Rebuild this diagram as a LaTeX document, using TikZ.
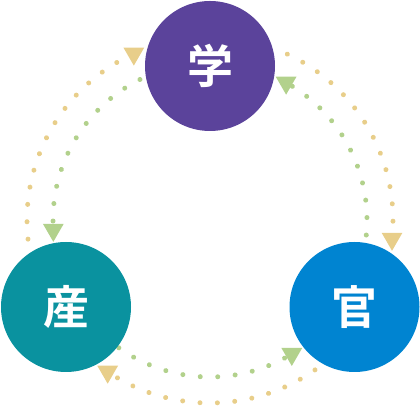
\documentclass[tikz,border=0pt]{standalone}
\usepackage{fontspec}
\newfontfamily\jpfont{Noto Sans CJK JP}[BoldFont={Noto Sans CJK JP Bold}]
\usepackage{tikz}
\usetikzlibrary{shapes.geometric}
\definecolor{gakucolor}{RGB}{91, 67, 155}
\definecolor{sancolor}{RGB}{10, 146, 159}
\definecolor{kancolor}{RGB}{0, 132, 209}
\definecolor{dotyellow}{RGB}{232, 206, 138}
\definecolor{dotgreen}{RGB}{178, 209, 140}
\tikzset{
sectorcircle/.style={
  circle,
  minimum size=130pt,
  inner sep=0pt,
  text=white,
  font=\jpfont\bfseries\fontsize{46}{46}\selectfont
},
yellowdots/.style={
  draw=dotyellow,
  line width=5pt,
  line cap=round,
  dash pattern=on 0.01pt off 17.39pt
},
greendots/.style={
  draw=dotgreen,
  line width=5pt,
  line cap=round,
  dash pattern=on 0.01pt off 17.49pt
},
tipmark/.style={
  regular polygon,
  regular polygon sides=3,
  shape border rotate=180,
  minimum size=24pt,
  inner sep=0pt
},
yellowtip/.style={
  tipmark,
  fill=dotyellow
},
greentip/.style={
  tipmark,
  fill=dotgreen
}
}

\begin{document}
\begin{tikzpicture}[x=1pt,y=1pt]
  \useasboundingbox (0,0) rectangle (420,409);
  \coordinate (ring) at (210,189);
  % outer ring, clockwise
  \draw[yellowdots] ([shift={(186:183pt)}]ring) arc[start angle=186, end angle=120.1, radius=183pt];
  \draw[yellowdots] ([shift={(65:183pt)}]ring) arc[start angle=65, end angle=-0.9, radius=183pt];
  \draw[yellowdots] ([shift={(305:183pt)}]ring) arc[start angle=305, end angle=239.1, radius=183pt];
  % inner ring, counterclockwise
  \draw[greendots] ([shift={(116.5:157pt)}]ring) arc[start angle=116.5, end angle=180.9, radius=157pt];
  \draw[greendots] ([shift={(-5.5:157pt)}]ring) arc[start angle=-5.5, end angle=58.9, radius=157pt];
  \draw[greendots] ([shift={(234.5:157pt)}]ring) arc[start angle=234.5, end angle=298.9, radius=157pt];

  \node[sectorcircle, fill=gakucolor] (gaku) at (210,343) {学};
  \node[sectorcircle, fill=sancolor] (san) at (66,102) {産};
  \node[sectorcircle, fill=kancolor] (kan) at (354.5,102) {官};

  \node[yellowtip] (togaku) at ([shift={(114.6:183pt)}]ring) {};
  \node[yellowtip] (tokan) at ([shift={(-5.9:183pt)}]ring) {};
  \node[yellowtip] (tosan) at ([shift={(236:183pt)}]ring) {};
  \node[greentip] (backsan) at ([shift={(183.6:157pt)}]ring) {};
  \node[greentip] (backgaku) at ([shift={(61:157pt)}]ring) {};
  \node[greentip] (backkan) at ([shift={(301.4:157pt)}]ring) {};
\end{tikzpicture}
\end{document}
